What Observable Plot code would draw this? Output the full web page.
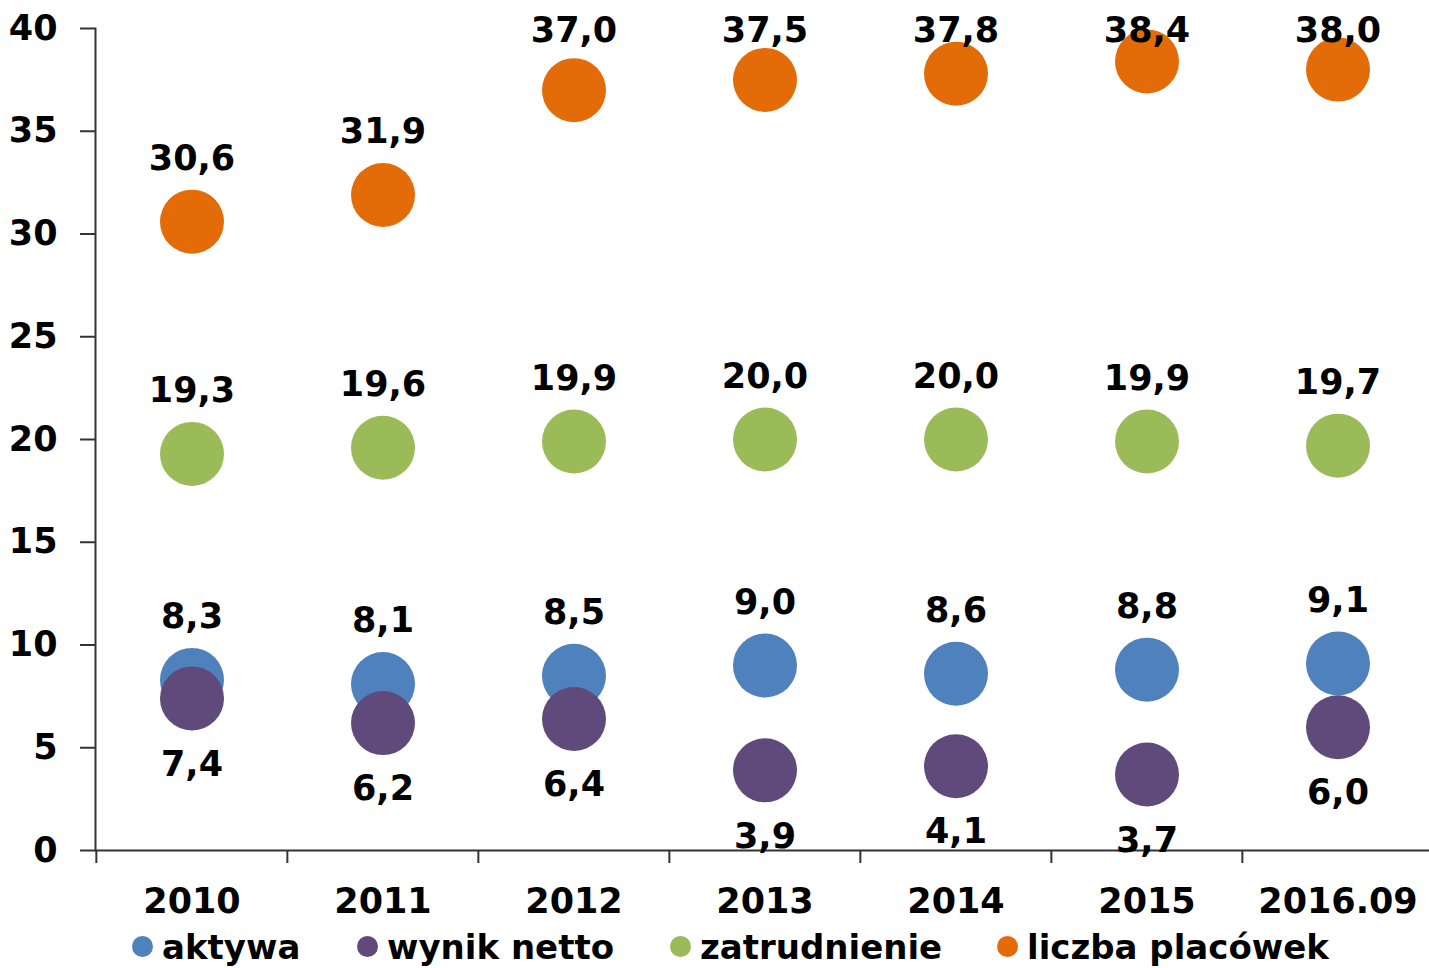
<!DOCTYPE html>
<html>
<head>
<meta charset="utf-8">
<script src="https://cdn.jsdelivr.net/npm/d3@7"></script>
<script src="https://cdn.jsdelivr.net/npm/@observablehq/plot@0.6"></script>
<style>
  body { margin: 0; background: #fff; }
  #legend { position: relative; width: 1429px; height: 43px; font-family: "DejaVu Sans", sans-serif; font-weight: bold; font-size: 34px; color: #000; }
  .item { position: absolute; top: 0; height: 43px; display: flex; align-items: center; white-space: nowrap; }
  .sw { width: 21px; height: 21px; border-radius: 50%; margin-right: 9px; }
</style>
</head>
<body>
<div id="chart"></div>
<div id="legend"></div>
<script>
const years = ["2010", "2011", "2012", "2013", "2014", "2015", "2016.09"];
const aktywa = [8.3, 8.1, 8.5, 9.0, 8.6, 8.8, 9.1];
const wynikNetto = [7.4, 6.2, 6.4, 3.9, 4.1, 3.7, 6.0];
const zatrudnienie = [19.3, 19.6, 19.9, 20.0, 20.0, 19.9, 19.7];
const liczbaPlacowek = [30.6, 31.9, 37.0, 37.5, 37.8, 38.4, 38.0];
const seriesNames = ["aktywa", "wynik netto", "zatrudnienie", "liczba placówek"];
const seriesValues = [aktywa, wynikNetto, zatrudnienie, liczbaPlacowek];
const seriesColors = ["#4F81BD", "#604A7B", "#9BBB59", "#E36C09"];
const labelBelow = ["wynik netto"];
const yTicks = [0, 5, 10, 15, 20, 25, 30, 35, 40];
const labelCap = 36.8; // labels kept inside the plot area, as in the original

const rows = seriesNames.flatMap((name, s) =>
  years.map((year, i) => ({ year, value: seriesValues[s][i], series: name }))
);
const fmt = d => d3.format(".1f")(d.value).replace(".", ",");

const left = 95, right = 1434;
const bw = (right - left) / years.length;
const axisColor = "#333";

const chart = Plot.plot({
  width: 1429,
  height: 925,
  marginLeft: left,
  marginTop: 28,
  marginBottom: 75,
  marginRight: 0,
  style: { fontFamily: "DejaVu Sans, sans-serif", fontWeight: "bold", color: "#000", background: "#fff" },
  x: { type: "band", domain: years, range: [left, right], padding: 0 },
  y: { domain: [0, 40], range: [850, 28] },
  color: { domain: seriesNames, range: seriesColors },
  marks: [
    Plot.axisY({ ticks: yTicks, tickSize: 15, tickPadding: 23, fontSize: 35, fontWeight: "bold", stroke: axisColor, strokeWidth: 2, label: null }),
    Plot.axisX({ tickSize: 0, tickPadding: 38, fontSize: 35, fontWeight: "bold", label: null }),
    Plot.frame({ anchor: "left", stroke: axisColor, strokeWidth: 2 }),
    Plot.ruleY([0], { stroke: axisColor, strokeWidth: 2 }),
    Plot.ruleX(years, { x: d => d, y1: 0, y2: 0, insetBottom: -13, dx: -bw / 2, stroke: axisColor, strokeWidth: 2 }),
    Plot.dot(rows, { x: "year", y: "value", fill: "series", r: 32 }),
    Plot.text(rows.filter(d => !labelBelow.includes(d.series)), {
      x: "year", y: d => Math.min(d.value, labelCap), text: fmt, dy: -63,
      fontSize: 35, fontWeight: "bold", fill: "#000", lineAnchor: "middle"
    }),
    Plot.text(rows.filter(d => labelBelow.includes(d.series)), {
      x: "year", y: "value", text: fmt, dy: 66,
      fontSize: 35, fontWeight: "bold", fill: "#000", lineAnchor: "middle"
    })
  ]
});
document.getElementById("chart").appendChild(chart);

const legendLefts = [132, 357, 670, 997];
const legend = document.getElementById("legend");
seriesNames.forEach((name, i) => {
  const item = document.createElement("div");
  item.className = "item";
  item.style.left = legendLefts[i] + "px";
  const sw = document.createElement("span");
  sw.className = "sw";
  sw.style.background = seriesColors[i];
  const t = document.createElement("span");
  t.textContent = name;
  item.appendChild(sw);
  item.appendChild(t);
  legend.appendChild(item);
});
</script>
</body>
</html>
